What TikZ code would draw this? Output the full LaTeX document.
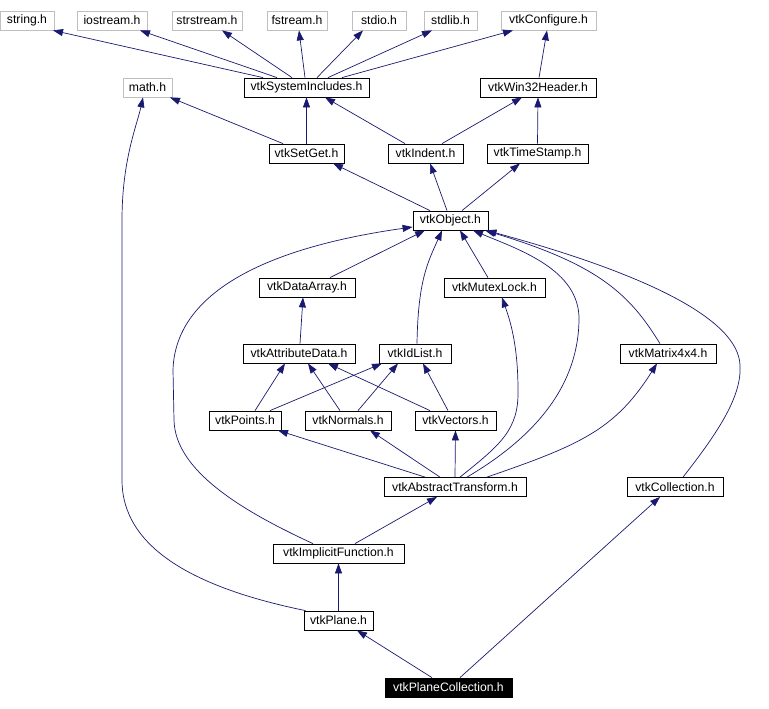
\documentclass[tikz,border=0pt]{standalone}
\usepackage{fontspec}
\setmainfont{Liberation Sans}
\definecolor{DoxNavy}{RGB}{25,25,112}
\definecolor{DoxGray}{RGB}{191,191,191}
\usetikzlibrary{arrows.meta}

\begin{document}
\begin{tikzpicture}[x=1pt, y=-1pt,
    hdr/.style={draw=black, line width=0.8pt, minimum height=19pt, inner sep=0pt, font=\fontsize{12.2}{14}\selectfont},
    syshdr/.style={hdr, draw=DoxGray},
    curhdr/.style={hdr, fill=black, text=white},
    dep/.style={draw=DoxNavy, line width=0.7pt, -{Triangle[length=10pt,width=7pt]}}]
        \useasboundingbox (0,0) rectangle (769,709);
        % system headers
        \foreach \nm/\x/\y/\w/\lab in {string/27/20.5/54/string.h, iostream/112/20.5/70/iostream.h,
            strstream/207/20.5/70/strstream.h, fstream/297/20.5/60/fstream.h, stdio/379/20.5/54/stdio.h,
            stdlib/450.5/20.5/53/stdlib.h, configure/548.5/20.5/95/vtkConfigure.h, math/147.5/87.5/49/math.h} {
            \node[syshdr, minimum width=\w pt] (\nm) at (\x,\y) {\lab};
        }
        % vtk headers
        \foreach \nm/\x/\y/\w/\lab in {sysinc/306.5/87.5/125/vtkSystemIncludes.h, win32/538/87.5/116/vtkWin32Header.h,
            setget/306.5/153.5/75/vtkSetGet.h, indent/425.5/153.5/75/vtkIndent.h, timestamp/537.5/153.5/101/vtkTimeStamp.h,
            object/450.5/220.5/75/vtkObject.h, dataarray/307/287.5/96/vtkDataArray.h, mutex/494.5/287.5/101/vtkMutexLock.h,
            attrdata/299/353.5/112/vtkAttributeData.h, idlist/415/353.5/72/vtkIdList.h, matrix/668/353.5/96/vtkMatrix4x4.h,
            points/245/420.5/72/vtkPoints.h, normals/348/420.5/86/vtkNormals.h, vectors/455.5/420.5/81/vtkVectors.h,
            abstract/455/487/142/vtkAbstractTransform.h, collection/675/487/96/vtkCollection.h,
            implicit/338.5/553.5/131/vtkImplicitFunction.h, plane/338.5/620.5/69/vtkPlane.h} {
            \node[hdr, minimum width=\w pt] (\nm) at (\x,\y) {\lab};
        }
        \node[curhdr, minimum width=127pt] (planecoll) at (448.5,687.5) {vtkPlaneCollection.h};

        % straight dependencies
        \foreach \t/\tx/\h/\hx in {sysinc/-43.5/string/26, sysinc/-29.5/iostream/28, sysinc/-14.5/strstream/15,
            sysinc/-1.5/fstream/2, sysinc/10.5/stdio/-16, sysinc/21.5/stdlib/-18.5, sysinc/35.5/configure/-35.5,
            win32/1/configure/-1.5, setget/-23.5/math/22.5, setget/0/sysinc/0, indent/-20.5/sysinc/18.5,
            indent/16.5/win32/-16, timestamp/0/win32/0, object/-20.5/setget/26.5, object/-3.5/indent/4.5,
            object/11.5/timestamp/-17.5, dataarray/23/object/-25.5, mutex/-6.5/object/9.5, attrdata/1/dataarray/-4,
            points/10/attrdata/-14, normals/-8/attrdata/9, vectors/-25.5/attrdata/29, points/25/idlist/-33,
            normals/10/idlist/-17, vectors/-7.5/idlist/8, abstract/-30/points/33, abstract/-15/normals/22,
            abstract/0/vectors/0, implicit/16.5/abstract/-18, plane/0/implicit/0, planecoll/-16.5/plane/18.5,
            planecoll/11.5/collection/-15} {
            \draw[dep] ([xshift=\tx pt]\t.north) -- ([xshift=\hx pt]\h.south);
        }

        % curved dependencies
        \draw[dep] ([xshift=-33pt]plane.north) .. controls (195,588) and (122,548) .. (122,480)
            -- (122,220) .. controls (122,160) and (137,125) .. ([xshift=-4.5pt]math.south);
        \draw[dep] ([xshift=-25.5pt]implicit.north) .. controls (240,510) and (175,470) .. (174,420)
            -- (173,370) .. controls (175,300) and (250,250) .. ([yshift=-6.5pt]object.west);
        \draw[dep] ([xshift=12pt]abstract.north) .. controls (530,440) and (578,390) .. (579,320)
            .. controls (580,270) and (520,250) .. ([xshift=22.5pt]object.south);
        \draw[dep] ([xshift=5pt]abstract.north) .. controls (500,445) and (519,430) .. (518,390)
            .. controls (518,340) and (508,315) .. ([xshift=7.5pt]mutex.south);
        \draw[dep] ([xshift=32pt]abstract.north) .. controls (580,445) and (615,430) .. ([xshift=-11pt]matrix.south);
        \draw[dep] ([xshift=2pt]idlist.north) .. controls (418,280) and (428,262) .. ([xshift=-8.5pt]object.south);
        \draw[dep] ([xshift=-8pt]matrix.north) .. controls (630,295) and (600,265) .. ([xshift=34.5pt]object.south);
        \draw[dep] ([xshift=8pt]collection.north) .. controls (720,430) and (742,395) .. (740,365)
            .. controls (738,320) and (650,275) .. ([xshift=36pt]object.south);
    \end{tikzpicture}
\end{document}
